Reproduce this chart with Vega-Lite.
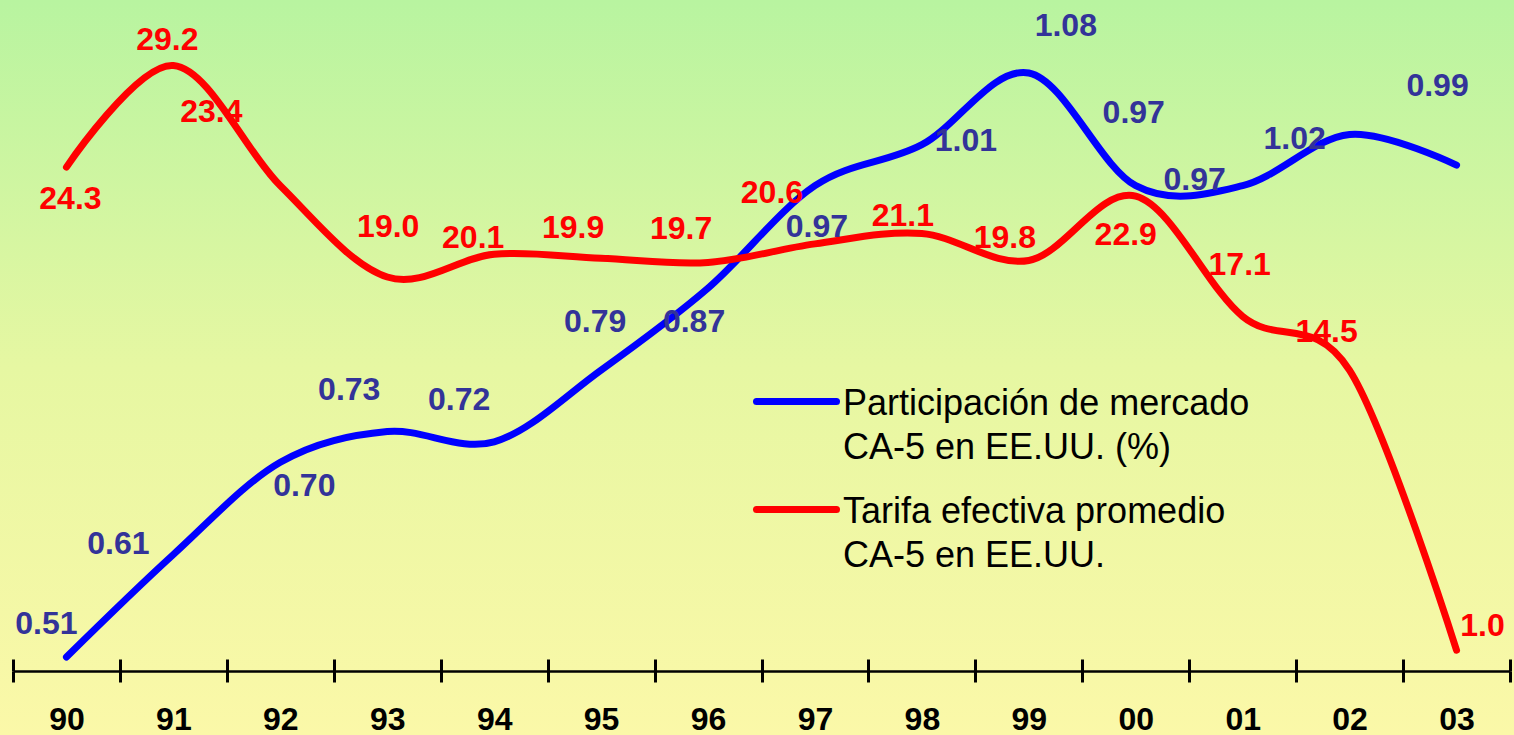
{
  "$schema": "https://vega.github.io/schema/vega-lite/v6.json",
  "autosize": "none",
  "width": 1514,
  "height": 735,
  "padding": 0,
  "background": "#FBF8A8",
  "config": {
    "font": "Liberation Sans",
    "view": {
      "stroke": null,
      "fill": {"gradient": "linear", "x1": 0, "y1": 0, "x2": 0, "y2": 1,
        "stops": [{"offset": 0, "color": "#B8F4A0"}, {"offset": 0.5, "color": "#E6F7A2"}, {"offset": 1, "color": "#FBF8A8"}]}
    }
  },
  "data": {
    "values": [
      {"year": "90", "series": "Participación de mercado CA-5 en EE.UU. (%)", "value": 0.51},
      {"year": "91", "series": "Participación de mercado CA-5 en EE.UU. (%)", "value": 0.61},
      {"year": "92", "series": "Participación de mercado CA-5 en EE.UU. (%)", "value": 0.70},
      {"year": "93", "series": "Participación de mercado CA-5 en EE.UU. (%)", "value": 0.73},
      {"year": "94", "series": "Participación de mercado CA-5 en EE.UU. (%)", "value": 0.72},
      {"year": "95", "series": "Participación de mercado CA-5 en EE.UU. (%)", "value": 0.79},
      {"year": "96", "series": "Participación de mercado CA-5 en EE.UU. (%)", "value": 0.87},
      {"year": "97", "series": "Participación de mercado CA-5 en EE.UU. (%)", "value": 0.97},
      {"year": "98", "series": "Participación de mercado CA-5 en EE.UU. (%)", "value": 1.01},
      {"year": "99", "series": "Participación de mercado CA-5 en EE.UU. (%)", "value": 1.08},
      {"year": "00", "series": "Participación de mercado CA-5 en EE.UU. (%)", "value": 0.97},
      {"year": "01", "series": "Participación de mercado CA-5 en EE.UU. (%)", "value": 0.97},
      {"year": "02", "series": "Participación de mercado CA-5 en EE.UU. (%)", "value": 1.02},
      {"year": "03", "series": "Participación de mercado CA-5 en EE.UU. (%)", "value": 0.99},
      {"year": "90", "series": "Tarifa efectiva promedio CA-5 en EE.UU.", "value": 24.3},
      {"year": "91", "series": "Tarifa efectiva promedio CA-5 en EE.UU.", "value": 29.2},
      {"year": "92", "series": "Tarifa efectiva promedio CA-5 en EE.UU.", "value": 23.4},
      {"year": "93", "series": "Tarifa efectiva promedio CA-5 en EE.UU.", "value": 19.0},
      {"year": "94", "series": "Tarifa efectiva promedio CA-5 en EE.UU.", "value": 20.1},
      {"year": "95", "series": "Tarifa efectiva promedio CA-5 en EE.UU.", "value": 19.9},
      {"year": "96", "series": "Tarifa efectiva promedio CA-5 en EE.UU.", "value": 19.7},
      {"year": "97", "series": "Tarifa efectiva promedio CA-5 en EE.UU.", "value": 20.6},
      {"year": "98", "series": "Tarifa efectiva promedio CA-5 en EE.UU.", "value": 21.1},
      {"year": "99", "series": "Tarifa efectiva promedio CA-5 en EE.UU.", "value": 19.8},
      {"year": "00", "series": "Tarifa efectiva promedio CA-5 en EE.UU.", "value": 22.9},
      {"year": "01", "series": "Tarifa efectiva promedio CA-5 en EE.UU.", "value": 17.1},
      {"year": "02", "series": "Tarifa efectiva promedio CA-5 en EE.UU.", "value": 14.5},
      {"year": "03", "series": "Tarifa efectiva promedio CA-5 en EE.UU.", "value": 1.0}
    ]
  },
  "layer": [
    {
      "transform": [{"filter": "datum.series == 'Participación de mercado CA-5 en EE.UU. (%)'"}],
      "mark": {"type": "line", "interpolate": "cardinal", "strokeWidth": 7, "strokeCap": "round", "strokeJoin": "round"},
      "encoding": {
        "x": {"field": "year", "type": "ordinal", "bandPosition": 0.5,
          "scale": {"type": "band", "domain": ["90","91","92","93","94","95","96","97","98","99","00","01","02","03"], "range": [13, 1510], "paddingInner": 0, "paddingOuter": 0},
          "axis": {"orient": "bottom", "offset": -64, "title": null, "grid": false, "domain": true, "domainColor": "#000000", "domainWidth": 2.5,
            "ticks": true, "tickColor": "#000000", "tickWidth": 3, "tickSize": 11, "tickBand": "extent",
            "labelFont": "Liberation Sans", "labelFontSize": 32, "labelFontWeight": "bold", "labelColor": "#000000",
            "labelPadding": 22, "labelAngle": 0}},
        "y": {"field": "value", "type": "quantitative", "scale": {"domain": [0.4963, 1.1512], "range": [671, 0], "nice": false, "zero": false}, "axis": null},
        "color": {"field": "series", "type": "nominal",
          "scale": {"domain": ["Participación de mercado CA-5 en EE.UU. (%)", "Tarifa efectiva promedio CA-5 en EE.UU."], "range": ["#0000FF", "#FF0000"]},
          "legend": {"orient": "none", "legendX": 753, "legendY": 358, "title": null, "padding": 0,
            "symbolType": "stroke", "symbolSize": 6400, "symbolStrokeWidth": 7,
            "labelFont": "Liberation Sans", "labelFontSize": 36, "labelColor": "#000000", "labelLimit": 900,
            "labelOffset": 3, "rowPadding": -19, "labelBaseline": "top",
            "labelExpr": "[slice(datum.label, 0, indexof(datum.label, ' CA-5')), slice(datum.label, indexof(datum.label, ' CA-5') + 1)]",
            "encode": {"labels": {"update": {"lineHeight": {"value": 44}, "dy": {"value": -15}}},
                       "symbols": {"update": {"strokeCap": {"value": "round"}}}}}}
      }
    },
    {
      "transform": [{"filter": "datum.series == 'Tarifa efectiva promedio CA-5 en EE.UU.'"}],
      "mark": {"type": "line", "interpolate": "cardinal", "strokeWidth": 7, "strokeCap": "round", "strokeJoin": "round"},
      "encoding": {
        "x": {"field": "year", "type": "ordinal", "bandPosition": 0.5,
          "scale": {"type": "band", "domain": ["90","91","92","93","94","95","96","97","98","99","00","01","02","03"], "range": [13, 1510], "paddingInner": 0, "paddingOuter": 0},
          "axis": {"orient": "bottom", "offset": -64, "title": null, "grid": false, "domain": false, "labels": false,
            "ticks": true, "tickColor": "#000000", "tickWidth": 3, "tickSize": -12, "tickBand": "extent"}},
        "y": {"field": "value", "type": "quantitative", "scale": {"domain": [0, 32.36], "range": [671, 0], "nice": false, "zero": false}, "axis": null},
        "color": {"field": "series", "type": "nominal"}
      }
    },
    {
      "transform": [{"filter": "datum.series == 'Participación de mercado CA-5 en EE.UU. (%)'"}],
      "mark": {"type": "text", "font": "Liberation Sans", "fontSize": 32, "fontWeight": "bold", "color": "#333399", "baseline": "middle", "align": "center",
        "dx": {"expr": "{'90':-20,'91':-55,'92':24,'93':-38,'94':-35,'95':-6,'96':-14,'97':2,'98':44,'99':37,'00':-2,'01':-48,'02':-55,'03':-19}[datum.year]"},
        "dy": {"expr": "{'90':-33,'91':-11,'92':24,'93':-42,'94':-42,'95':-48,'96':34,'97':41,'98':-4,'99':-47,'00':-73,'01':-6,'02':5,'03':-79}[datum.year]"}},
      "encoding": {
        "x": {"field": "year", "type": "ordinal", "bandPosition": 0.5, "axis": null,
          "scale": {"type": "band", "domain": ["90","91","92","93","94","95","96","97","98","99","00","01","02","03"], "range": [13, 1510], "paddingInner": 0, "paddingOuter": 0}},
        "y": {"field": "value", "type": "quantitative", "scale": {"domain": [0.4963, 1.1512], "range": [671, 0], "nice": false, "zero": false}, "axis": null},
        "text": {"field": "value", "type": "quantitative", "format": ".2f"}
      }
    },
    {
      "transform": [{"filter": "datum.series == 'Tarifa efectiva promedio CA-5 en EE.UU.'"}],
      "mark": {"type": "text", "font": "Liberation Sans", "fontSize": 32, "fontWeight": "bold", "color": "#FF0000", "baseline": "middle", "align": "center",
        "dx": {"expr": "{'90':4,'91':-6,'92':-69,'93':1,'94':-21,'95':-28,'96':-27,'97':-43,'98':-19,'99':-24,'00':-10,'01':-3,'02':-23,'03':26}[datum.year]"},
        "dy": {"expr": "{'90':32,'91':-26,'92':-74,'93':-50,'94':-16,'95':-30,'96':-34,'97':-51,'98':-17,'99':-22,'00':39,'01':-51,'02':-38,'03':-24}[datum.year]"}},
      "encoding": {
        "x": {"field": "year", "type": "ordinal", "bandPosition": 0.5, "axis": null,
          "scale": {"type": "band", "domain": ["90","91","92","93","94","95","96","97","98","99","00","01","02","03"], "range": [13, 1510], "paddingInner": 0, "paddingOuter": 0}},
        "y": {"field": "value", "type": "quantitative", "scale": {"domain": [0, 32.36], "range": [671, 0], "nice": false, "zero": false}, "axis": null},
        "text": {"field": "value", "type": "quantitative", "format": ".1f"}
      }
    }
  ],
  "resolve": {"scale": {"y": "independent"}, "axis": {"x": "independent"}}
}
